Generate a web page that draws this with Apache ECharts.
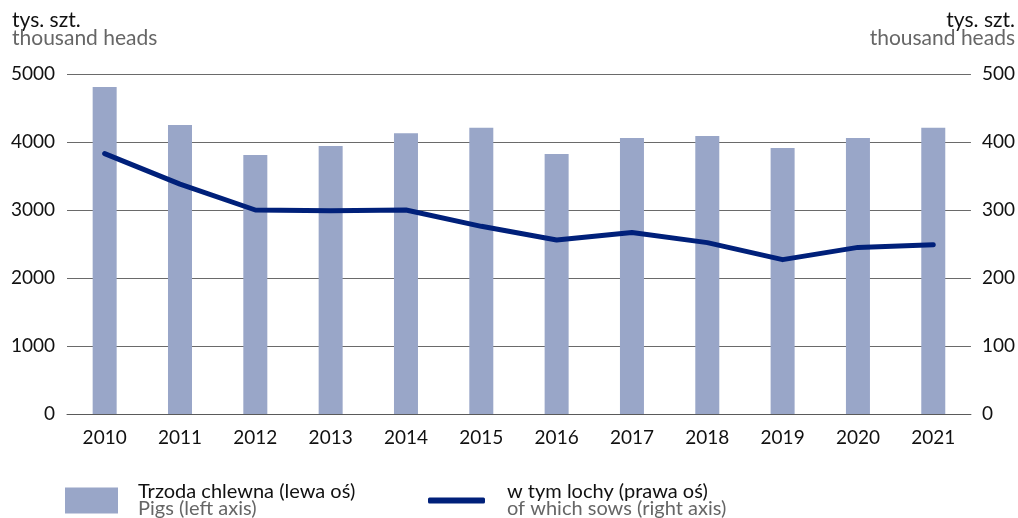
<!DOCTYPE html>
<html>
<head>
<meta charset="utf-8">
<script src="https://cdn.jsdelivr.net/npm/echarts@6/dist/echarts.min.js"></script>
<style>
  html, body { margin: 0; padding: 0; background: #fff; }
  #chart { width: 1018px; height: 518px; }
</style>
</head>
<body>
<div id="chart"></div>
<script>
// Pig stock and sows, thousand heads
const years = ['2010','2011','2012','2013','2014','2015','2016','2017','2018','2019','2020','2021'];
const pigs = [4810, 4250, 3810, 3940, 4130, 4210, 3825, 4060, 4090, 3910, 4060, 4210];
const sows = [383, 338, 300, 299, 300, 276, 256, 267, 252, 227, 245, 249];

const pigsName = 'Trzoda chlewna (lewa oś)';
const pigsNameEn = 'Pigs (left axis)';
const sowsName = 'w tym lochy (prawa oś)';
const sowsNameEn = 'of which sows (right axis)';
const unitPl = 'tys. szt.';
const unitEn = 'thousand heads';

const FONT = 'Lato, "Open Sans", sans-serif';
const BAR_COLOR = '#99a6c8';
const LINE_COLOR = '#00207a';
const GREY_TEXT = '#666666';

const chart = echarts.init(document.getElementById('chart'), null, { renderer: 'canvas' });

const legendRich = {
  a: { fontFamily: FONT, fontSize: 20, color: '#111', lineHeight: 17 },
  b: { fontFamily: FONT, fontSize: 20, color: GREY_TEXT, lineHeight: 17 }
};

const plain = v => String(v);

chart.setOption({
  animation: false,
  textStyle: { fontFamily: FONT },
  grid: { left: 67, right: 46, top: 74, bottom: 104, containLabel: false },
  xAxis: {
    type: 'category',
    data: years,
    axisLine: { show: true, lineStyle: { color: '#5a5a5a', width: 1 } },
    axisTick: { show: false },
    axisLabel: { color: '#111', fontSize: 19, fontFamily: FONT, margin: 14 }
  },
  yAxis: [
    {
      type: 'value', min: 0, max: 5000, interval: 1000,
      axisLine: { show: false }, axisTick: { show: false },
      axisLabel: { color: '#111', fontSize: 19, fontFamily: FONT, margin: 12, formatter: plain },
      splitLine: { lineStyle: { color: '#6a6a6a', width: 1 } }
    },
    {
      type: 'value', min: 0, max: 500, interval: 100,
      axisLine: { show: false }, axisTick: { show: false },
      axisLabel: { color: '#111', fontSize: 19, fontFamily: FONT, margin: 11, formatter: plain },
      splitLine: { show: false }
    }
  ],
  legend: [
    {
      left: 65, top: 482, padding: 0, itemWidth: 53, itemHeight: 26,
      data: [{ name: pigsName, icon: 'rect' }],
      formatter: () => '{a|' + pigsName + '}\n{b|' + pigsNameEn + '}',
      textStyle: { rich: legendRich, padding: [0, 0, 0, 15] },
      selectedMode: false
    },
    {
      left: 428, top: 482, padding: 0, itemWidth: 57, itemHeight: 6,
      data: [{ name: sowsName, icon: 'roundRect' }],
      formatter: () => '{a|' + sowsName + '}\n{b|' + sowsNameEn + '}',
      textStyle: { rich: legendRich, padding: [0, 0, 0, 17] },
      selectedMode: false
    }
  ],
  graphic: [
    { type: 'text', left: 12, top: 10, style: { text: unitPl, fontFamily: FONT, fontSize: 21, fill: '#111' } },
    { type: 'text', left: 12, top: 28, style: { text: unitEn, fontFamily: FONT, fontSize: 21, fill: GREY_TEXT } },
    { type: 'text', right: 3, top: 10, style: { text: unitPl, fontFamily: FONT, fontSize: 21, fill: '#111', align: 'right' } },
    { type: 'text', right: 3, top: 28, style: { text: unitEn, fontFamily: FONT, fontSize: 21, fill: GREY_TEXT, align: 'right' } }
  ],
  series: [
    {
      name: pigsName, type: 'bar', yAxisIndex: 0, data: pigs,
      barWidth: 24, itemStyle: { color: BAR_COLOR }
    },
    {
      name: sowsName, type: 'line', yAxisIndex: 1, data: sows,
      symbol: 'none', lineStyle: { color: LINE_COLOR, width: 5, cap: 'round', join: 'round' },
      itemStyle: { color: LINE_COLOR }
    }
  ]
});
</script>
</body>
</html>
